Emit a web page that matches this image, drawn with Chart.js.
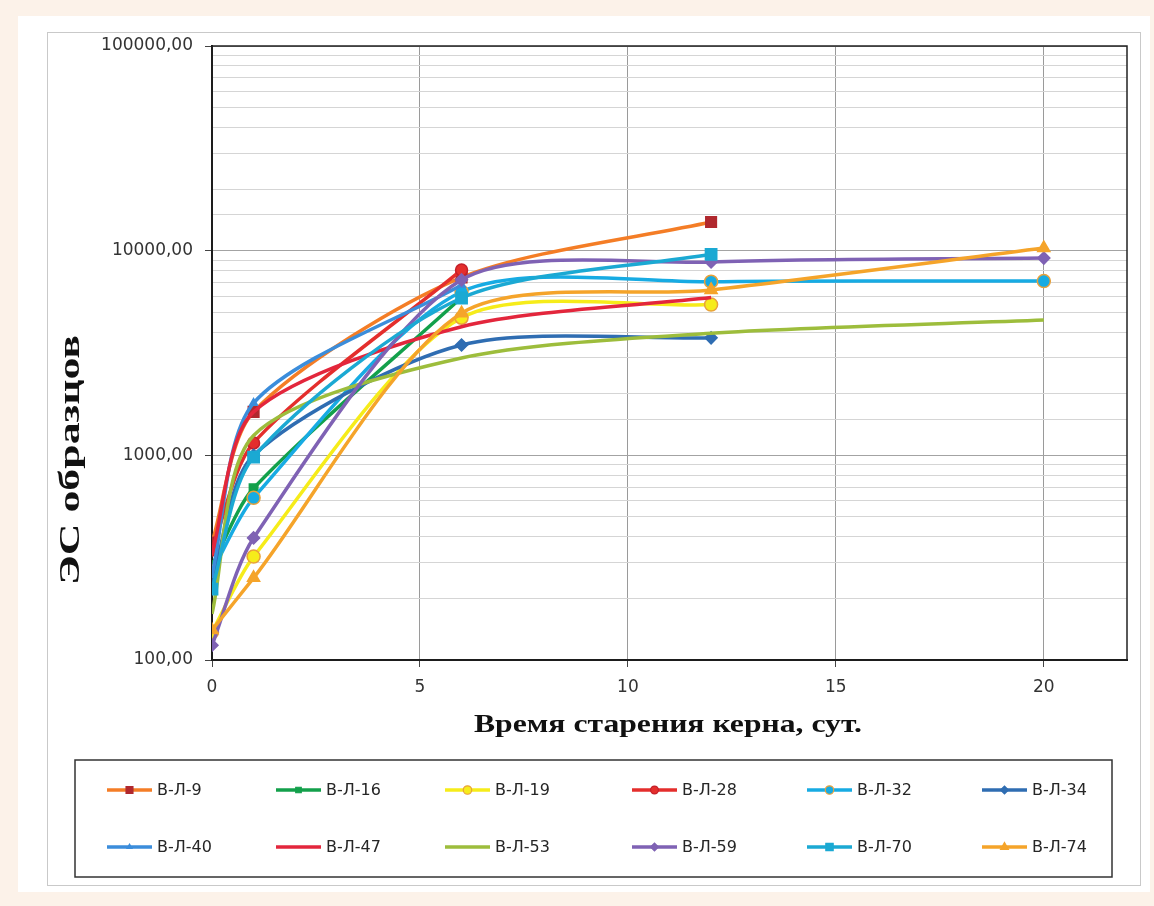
<!DOCTYPE html>
<html lang="ru">
<head>
<meta charset="utf-8">
<title>ЭС образцов</title>
<script src="https://cdn.jsdelivr.net/npm/chart.js@4/dist/chart.umd.min.js"></script>
<style>
  html, body { margin: 0; padding: 0; }
  body { width: 1154px; height: 906px; background: #fcf2e9; position: relative; overflow: hidden; }
  .card { position: absolute; left: 18px; top: 16px; width: 1132px; height: 876px; background: #fff; }
  .frame { position: absolute; left: 47px; top: 32px; width: 1092px; height: 852px; border: 1px solid #c9c9c9; background: #fff; }
  .wrap { position: absolute; left: 0; top: 0; width: 1154px; height: 906px; }
</style>
</head>
<body>
<div class="card"></div>
<div class="frame"></div>
<div class="wrap"><canvas id="chart"></canvas></div>
<script>
// время старения, сут.
const days = [0, 1, 6, 12, 20]

const seriesNames = ['В-Л-9', 'В-Л-16', 'В-Л-19', 'В-Л-28', 'В-Л-32', 'В-Л-34',
    'В-Л-40', 'В-Л-47', 'В-Л-53', 'В-Л-59', 'В-Л-70', 'В-Л-74']

// ЭС по суткам (значения идут по days, короткие ряды обрываются раньше)
const vl9 = [375, 1630, 7400, 13800]
const vl16 = [290, 690, 5900]
const vl19 = [137, 320, 4700, 5450]
const vl28 = [345, 1150, 8050]
const vl32 = [270, 620, 6300, 7050, 7100]
const vl34 = [245, 1000, 3460, 3750]
const vl40 = [260, 1800, 6800]
const vl47 = [330, 1630, 4250, 5900]
const vl53 = [168, 1250, 2990, 3950, 4580]
const vl59 = [118, 395, 7200, 8800, 9200]
const vl70 = [222, 980, 5870, 9600]
const vl74 = [140, 252, 4950, 6430, 10300]

const xTicks = [0, 5, 10, 15, 20]
const yTickValues = [100, 1000, 10000, 100000]
const yTickLabels = ['100,00', '1000,00', '10000,00', '100000,00']

const seriesValues = [vl9, vl16, vl19, vl28, vl32, vl34, vl40, vl47, vl53, vl59, vl70, vl74]

const styles = [
    { line: '#f47d26', style: 'rect', r: 7.5, fill: '#b0282e', edge: '#b0282e' },
    { line: '#13a04b', style: 'rect', r: 6, fill: '#13a04b', edge: '#13a04b' },
    { line: '#f6ec1a', style: 'circle', r: 6.5, fill: '#f6ec1a', edge: '#e9a13a' },
    { line: '#e42e2c', style: 'circle', r: 6, fill: '#e42e2c', edge: '#c4202a' },
    { line: '#17abe3', style: 'circle', r: 6.5, fill: '#17abe3', edge: '#e9a13a' },
    { line: '#2f6db2', style: 'rectRot', r: 6, fill: '#2f6db2', edge: '#2f6db2' },
    { line: '#3b8ddb', style: 'triangle', r: 4.5, fill: '#3b8ddb', edge: '#3b8ddb' },
    { line: '#e3263c', style: 'circle', r: 0, fill: '#e3263c', edge: '#e3263c' },
    { line: '#9dbd3c', style: 'circle', r: 0, fill: '#9dbd3c', edge: '#9dbd3c' },
    { line: '#7f62b4', style: 'rectRot', r: 6, fill: '#7f62b4', edge: '#7f62b4' },
    { line: '#1ba9d3', style: 'rect', r: 8, fill: '#1ba9d3', edge: '#1ba9d3' },
    { line: '#f5a42a', style: 'triangle', r: 7, fill: '#f5a42a', edge: '#f5a42a' },
]

const tickFont = { family: 'DejaVu Sans', size: 17 }
const isMajorY = v => yTickValues.some(t => Math.abs(t - v) < t * 1e-6)

const datasets = seriesValues.map((vals, i) => {
    const s = styles[i]
    return {
        label: seriesNames[i],
        data: vals.map((v, k) => ({ x: days[k], y: v })),
        borderColor: s.line,
        borderWidth: 3.5,
        tension: 0.27,
        pointStyle: s.style,
        pointRadius: s.r,
        pointHoverRadius: s.r,
        pointBackgroundColor: s.fill,
        pointBorderColor: s.edge,
        pointBorderWidth: 1.5,
        order: -i,
        fill: false,
    }
})

// рамка области построения, подписи осей и легенда в две строки
const decor = {
    id: 'decor',
    beforeDatasetsDraw(chart) {
        const { ctx, chartArea: a } = chart
        ctx.save()
        ctx.strokeStyle = '#222'
        ctx.lineWidth = 1.5
        ctx.strokeRect(a.left, a.top, a.right - a.left, a.bottom - a.top)
        ctx.restore()
    },
    afterDraw(chart) {
        const ctx = chart.ctx
        const wideText = (text, x, y, width, rot) => {
            ctx.save()
            ctx.translate(x, y)
            ctx.rotate(rot)
            const w = ctx.measureText(text).width
            ctx.scale(width / w, 1)
            ctx.textAlign = 'center'
            ctx.textBaseline = 'middle'
            ctx.fillText(text, 0, 0)
            ctx.restore()
        }
        ctx.save()
        ctx.fillStyle = '#111'
        ctx.font = 'bold 25px "Liberation Serif"'
        wideText('Время старения керна, сут.', 668, 726, 388, 0)
        ctx.font = 'bold 29px "Liberation Serif"'
        wideText('ЭС образцов', 72, 460, 250, -Math.PI / 2)

        // легенда
        ctx.strokeStyle = '#333'
        ctx.lineWidth = 1.5
        ctx.strokeRect(75, 760, 1037, 117)
        const cols = [107, 276, 445, 632, 807, 982]
        const rows = [790, 847]
        ctx.font = '16px "DejaVu Sans"'
        ctx.textBaseline = 'middle'
        ctx.textAlign = 'left'
        chart.data.datasets.forEach((ds, i) => {
            const x = cols[i % 6]
            const y = rows[Math.floor(i / 6)]
            ctx.strokeStyle = ds.borderColor
            ctx.lineWidth = 3.5
            ctx.beginPath()
            ctx.moveTo(x, y)
            ctx.lineTo(x + 45, y)
            ctx.stroke()
            if (ds.pointRadius > 0) {
                ctx.fillStyle = ds.pointBackgroundColor
                ctx.strokeStyle = ds.pointBorderColor
                ctx.lineWidth = 1.2
                Chart.helpers.drawPoint(ctx, { pointStyle: ds.pointStyle, radius: ds.pointRadius * 0.65, borderWidth: 1.2, rotation: 0 }, x + 22.5, y)
            }
            ctx.fillStyle = '#262626'
            ctx.fillText(ds.label, x + 50, y + 1)
        })
        ctx.restore()
    }
}

new Chart(document.getElementById('chart'), {
    type: 'line',
    data: { datasets },
    plugins: [decor],
    options: {
        responsive: true,
        maintainAspectRatio: false,
        animation: false,
        layout: { padding: { left: 0, top: 46, right: 27, bottom: 186 } },
        plugins: {
            legend: { display: false },
            tooltip: { enabled: false },
        },
        scales: {
            x: {
                type: 'linear',
                min: 0,
                max: 22,
                afterFit: scale => { scale.height = 60 },
                afterBuildTicks: scale => { scale.ticks = xTicks.map(v => ({ value: v })) },
                border: { color: '#111', width: 2 },
                grid: {
                    color: c => c.tick && c.tick.value === 0 ? 'rgba(0,0,0,0)' : '#9a9a9a',
                    tickColor: '#444',
                    tickLength: 7,
                },
                ticks: {
                    color: '#333',
                    font: tickFont,
                    padding: 10,
                    maxRotation: 0,
                    autoSkip: false,
                },
            },
            y: {
                type: 'logarithmic',
                min: 100,
                max: 100000,
                afterFit: scale => { scale.width = 212 },
                border: { color: '#111', width: 2 },
                grid: {
                    color: c => c.tick && isMajorY(c.tick.value) ? '#a3a3a3' : '#d5d5d5',
                    tickColor: c => c.tick && isMajorY(c.tick.value) ? '#444' : 'rgba(0,0,0,0)',
                    tickLength: 7,
                },
                ticks: {
                    color: '#333',
                    font: tickFont,
                    padding: 12,
                    autoSkip: false,
                    callback: v => {
                        const k = yTickValues.findIndex(t => Math.abs(t - v) < t * 1e-6)
                        return k >= 0 ? yTickLabels[k] : ''
                    },
                },
            },
        },
    },
})
</script>
</body>
</html>
